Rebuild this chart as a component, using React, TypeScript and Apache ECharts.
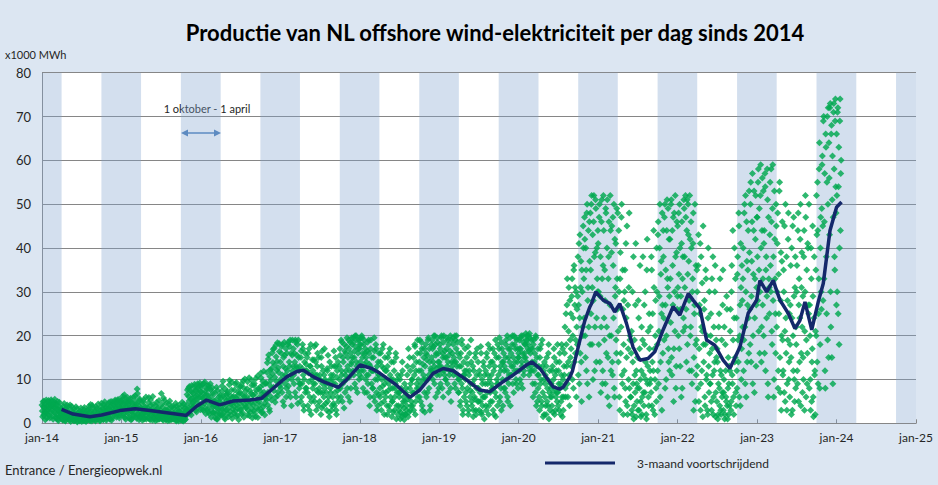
import React, { useEffect, useRef } from "react";
import * as echarts from "echarts";

// ---- Daily production samples (x1000 MWh) ----
// "d" arrays: one value every 3 days starting 1 Jan; "e" arrays: the days in between (offset 1.5 days)
const d2014 = [
  4.2, 1.5, 3.8, 5.1, 2.6, 0.8, 3.3, 4.7, 2.1, 3.9,
  5.2, 3.6, 1.2, 4.4, 5.4, 2.9, 4.1, 0.9, 3.7, 4.8,
  2.3, 4.6, 1.1, 3.4, 5.0, 0.6, 2.7, 3.9, 1.8, 2.5,
  1.4, 3.1, 0.7, 2.6, 4.5, 1.9, 0.5, 2.2, 3.6, 1.3,
  0.9, 2.4, 1.6, 4.2, 0.4, 1.8, 2.9, 0.8, 1.2, 3.3,
  0.6, 1.9, 3.8, 1.1, 0.3, 2.3, 0.9, 1.5, 0.5, 2.8,
  1.2, 0.4, 2.6, 0.8, 1.7, 3.6, 0.5, 1.1, 2.0, 0.7,
  2.2, 0.9, 3.9, 1.4, 0.6, 2.8, 1.9, 4.1, 0.8, 1.5,
  1.0, 2.5, 0.5, 1.7, 3.4, 0.9, 4.4, 1.3, 2.1, 0.6,
  2.9, 4.6, 1.4, 3.3, 0.8, 2.4, 4.9, 1.9, 3.7, 1.1,
  3.1, 1.6, 4.7, 2.3, 0.9, 3.8, 2.7, 5.0, 1.2, 2.5,
  4.3, 2.8, 5.3, 3.6, 1.4, 4.9, 2.2, 3.9, 5.5, 1.8, 3.3, 4.6,
];
const e2014 = [
  2.8, 4.9, 1.9, 3.5, 4.4, 2.3, 5.3, 1.2, 3.0, 4.1,
  3.3, 1.8, 4.6, 2.5, 5.0, 3.9, 1.6, 4.3, 2.7, 5.5,
  3.6, 1.4, 4.2, 2.0, 0.9, 3.1, 4.8, 1.6, 3.3, 2.2,
  2.8, 0.8, 3.9, 1.7, 2.4, 0.6, 3.3, 1.5, 4.2, 2.0,
  1.5, 3.6, 0.7, 2.1, 1.0, 3.9, 1.4, 2.5, 0.6, 1.9,
  2.2, 0.8, 1.4, 3.3, 0.5, 1.7, 2.6, 0.7, 1.2, 3.5,
  0.9, 2.2, 1.5, 0.6, 3.1, 1.0, 2.4, 0.4, 1.6, 2.9,
  1.3, 3.2, 0.7, 2.5, 4.3, 1.1, 0.5, 2.0, 3.6, 1.2,
  2.8, 0.7, 3.8, 1.5, 0.9, 2.3, 1.2, 3.1, 0.6, 1.9,
  1.7, 3.9, 2.2, 0.9, 4.3, 2.8, 1.3, 3.5, 0.7, 2.6,
  4.1, 2.0, 3.4, 1.1, 4.9, 2.9, 0.7, 3.6, 4.4, 1.8,
  2.5, 5.0, 3.2, 4.5, 1.9, 5.4, 2.9, 4.1, 1.2, 3.6, 5.1, 2.7,
];
const d2015 = [
  5.1, 3.4, 6.2, 2.1, 4.5, 1.3, 5.8, 3.9, 2.6, 4.8,
  2.3, 4.9, 1.1, 3.6, 5.7, 2.8, 0.9, 4.2, 3.1, 1.7,
  3.8, 6.3, 1.5, 4.4, 7.8, 2.2, 3.3, 0.8, 5.2, 2.9,
  1.9, 4.6, 0.7, 3.2, 5.4, 2.4, 1.2, 3.8, 0.9, 2.7,
  3.5, 1.4, 5.9, 2.6, 0.8, 4.1, 2.0, 3.3, 6.1, 1.6,
  1.1, 3.0, 0.6, 2.2, 4.8, 1.5, 3.6, 0.9, 2.5, 1.8,
  2.9, 6.8, 1.3, 3.7, 0.7, 2.1, 5.2, 1.6, 3.1, 0.9,
  1.8, 0.6, 3.4, 2.2, 5.1, 1.2, 0.8, 2.7, 1.5, 3.9,
  0.9, 2.4, 1.3, 4.6, 0.5, 1.9, 3.2, 0.8, 2.8, 1.4,
  1.6, 0.7, 2.9, 4.8, 1.1, 0.5, 2.3, 3.5, 0.9, 1.8,
  4.2, 7.6, 2.8, 6.1, 8.4, 3.3, 5.5, 1.9, 7.1, 4.6,
  6.8, 3.9, 8.9, 5.2, 7.4, 2.6, 6.3, 8.1, 4.4, 5.9, 9.2, 3.1,
];
const e2015 = [
  2.9, 5.5, 1.8, 4.2, 6.5, 3.1, 0.9, 4.9, 3.6, 5.9,
  4.4, 1.5, 3.3, 5.1, 0.8, 2.6, 4.7, 1.9, 6.0, 3.4,
  2.6, 5.0, 3.7, 1.1, 6.8, 4.1, 2.0, 5.6, 1.4, 3.5,
  3.3, 1.5, 2.2, 4.9, 0.9, 3.8, 2.5, 6.0, 1.7, 3.0,
  2.3, 4.7, 1.0, 3.1, 5.3, 1.9, 2.8, 0.7, 4.3, 2.5,
  2.7, 1.2, 4.1, 2.0, 0.8, 3.3, 1.6, 5.2, 1.0, 2.3,
  1.8, 4.3, 0.9, 2.5, 5.8, 1.4, 3.0, 0.8, 4.5, 2.2,
  2.9, 1.1, 4.4, 0.7, 2.4, 1.6, 3.8, 0.9, 2.1, 1.3,
  3.5, 1.0, 2.2, 0.7, 3.9, 1.6, 2.6, 0.5, 4.2, 1.2,
  2.4, 1.0, 3.9, 0.6, 2.0, 4.4, 1.3, 0.8, 2.7, 3.3,
  6.6, 3.0, 8.0, 5.1, 2.3, 7.4, 4.0, 8.6, 5.8, 3.6,
  4.9, 8.3, 6.1, 2.9, 7.7, 5.5, 9.0, 3.7, 6.8, 8.5, 4.3, 7.2,
];
const d2016 = [
  7.2, 4.1, 8.8, 5.6, 2.9, 6.7, 9.4, 3.5, 5.1, 7.9,
  3.2, 6.4, 8.6, 2.1, 5.3, 7.7, 1.4, 4.6, 6.9, 3.8,
  2.4, 5.1, 1.2, 3.7, 8.2, 0.9, 4.3, 2.8, 6.1, 1.7,
  4.9, 1.8, 7.3, 3.2, 9.6, 2.5, 5.8, 0.9, 4.1, 6.6,
  3.1, 6.8, 1.5, 5.2, 9.8, 2.7, 4.4, 7.6, 1.1, 5.9,
  6.2, 2.3, 4.8, 8.9, 1.6, 5.5, 3.4, 7.1, 0.8, 4.6,
  5.3, 8.4, 2.1, 6.6, 3.9, 9.7, 1.4, 5.8, 4.2, 7.3,
  3.6, 7.9, 1.9, 5.1, 10.4, 4.3, 2.6, 6.8, 8.7, 1.2,
  6.4, 2.8, 9.1, 4.7, 1.5, 7.6, 5.3, 10.8, 3.1, 5.9,
  4.2, 8.3, 11.5, 2.4, 6.7, 9.6, 3.8, 7.1, 1.9, 5.6,
  9.2, 5.4, 13.8, 7.1, 15.6, 3.3, 10.7, 6.2, 12.4, 8.1,
  11.3, 16.9, 7.4, 13.2, 4.8, 17.8, 9.6, 14.1, 6.3, 12.7, 18.2, 8.5,
];
const e2016 = [
  6.0, 8.3, 3.1, 5.9, 9.1, 4.5, 7.3, 2.2, 6.5, 8.6,
  5.5, 2.6, 7.9, 4.2, 9.0, 3.0, 6.1, 8.1, 2.4, 5.0,
  4.0, 6.9, 2.2, 5.4, 1.0, 7.5, 3.3, 4.8, 2.1, 6.4,
  5.7, 3.5, 8.5, 2.0, 6.3, 4.4, 1.3, 7.8, 3.0, 5.2,
  7.2, 2.2, 5.6, 8.8, 3.8, 6.3, 1.9, 9.4, 4.7, 3.2,
  3.9, 7.6, 2.8, 5.9, 9.3, 4.1, 1.8, 6.5, 8.2, 3.1,
  7.0, 3.1, 9.0, 4.9, 2.3, 8.1, 6.2, 10.1, 3.6, 5.0,
  6.1, 9.5, 2.9, 5.5, 1.7, 7.4, 4.8, 9.9, 3.3, 6.4,
  4.2, 8.6, 2.2, 6.8, 10.2, 3.5, 5.4, 1.3, 7.9, 4.9,
  7.5, 3.2, 10.4, 5.9, 2.6, 8.8, 11.9, 4.5, 6.3, 9.1,
  6.5, 11.6, 4.2, 14.7, 8.9, 2.7, 12.2, 9.8, 5.3, 16.1,
  13.9, 8.2, 17.1, 10.5, 5.9, 15.2, 12.1, 18.4, 7.1, 11.6, 16.4, 9.3,
];
const d2017 = [
  14, 8, 17.5, 11, 5, 15, 18.5, 9, 12.5, 6,
  16, 10, 18.5, 7, 13, 19, 11, 4, 15.5, 12,
  17, 9, 14, 19, 6, 12.5, 18, 10, 15, 8,
  13, 5, 16.5, 9, 18, 11, 3, 14, 7, 12,
  8, 15, 4, 11.5, 17, 6, 13, 2, 10, 14.5,
  12, 6, 17.5, 9, 14, 3, 11, 16, 7, 10,
  5, 10, 2, 13, 16.5, 7, 4, 11, 8, 9.5,
  9, 3, 12, 15.5, 6, 1.5, 10, 7, 13, 4,
  6, 11, 16.5, 4, 9, 13, 2, 12, 7.5, 5,
  13, 17, 8, 19, 11, 5, 15, 9.5, 18, 7,
  16, 10, 19.5, 13, 6, 17, 12, 18.5, 8, 14,
  18, 12, 19.5, 15, 9, 17.5, 20, 13, 7, 16, 19, 11,
];
const e2017 = [
  10, 16, 7, 18, 13, 4, 15.5, 11, 17, 8,
  12, 18, 8.5, 14, 17.5, 6, 16, 10, 19, 13,
  11, 16, 7, 18.5, 13, 15.5, 4.5, 19, 12, 9,
  9, 15, 6, 12.5, 17, 4, 10, 16, 8, 13.5,
  12, 7, 16, 9.5, 3, 13, 18, 5, 11, 8,
  9, 14.5, 5, 11, 18, 7.5, 13, 4, 15, 8,
  11, 7, 15, 3.5, 9, 12, 6, 17, 10, 4.5,
  7, 12.5, 5, 9, 2.5, 14, 8, 11, 3, 10,
  9, 4.5, 13, 7, 15, 3, 10.5, 6, 14, 8,
  10, 15.5, 6, 12, 18.5, 9, 14, 3.5, 16.5, 11,
  12, 17.5, 8, 15, 19, 10.5, 5, 16, 13.5, 19.5,
  15, 18.5, 11, 16.5, 20, 8, 14, 19, 12, 17, 10, 18,
];
const d2018 = [
  17, 19.5, 12, 20, 15, 8, 18, 13.5, 16, 10,
  14, 7, 18.5, 11, 16, 4, 13, 19, 9, 12,
  8, 15, 19.5, 5, 12, 17, 3, 10, 14, 6.5,
  11, 6, 16, 3, 13, 8.5, 18, 5, 9, 12,
  7, 12, 2, 15, 9, 4, 17, 6, 10, 1.5,
  5, 10, 14, 3, 8, 16, 1, 7, 11, 4,
  3, 7, 1, 11, 4, 14, 2, 6, 0.8, 5,
  2, 8, 4, 13, 1.5, 6, 15, 3, 9, 5,
  10, 4, 15, 7, 18, 2, 12, 9, 16, 6,
  8, 14, 19, 5, 12, 17, 3, 10, 15, 7,
  13, 18, 6, 15.5, 10, 19.5, 8, 14, 4, 12,
  15, 19, 10, 17.5, 13, 20, 6, 16, 11, 18.5, 14, 8,
];
const e2018 = [
  14, 18, 10.5, 19.5, 16, 12, 19, 7, 17, 15,
  11, 16.5, 9, 19, 13.5, 6, 17, 12, 15, 8,
  12, 6, 16.5, 10, 18, 7, 13, 4, 11, 16,
  8, 14, 4.5, 10, 17, 7, 12.5, 2, 15, 6,
  10, 4, 13, 7.5, 16, 3, 11, 8, 14, 5,
  8, 2.5, 12, 6, 9, 15, 4, 10, 2, 7,
  6, 10, 2.5, 8, 1.5, 12, 5, 3.5, 9, 2,
  7, 3, 11, 5.5, 17, 2.5, 8, 12, 4, 10,
  7, 13, 3, 11, 17.5, 5, 14, 8, 19, 10,
  12, 6, 16, 9, 18.5, 4, 13.5, 11, 17, 2.5,
  10, 16, 14.5, 7, 19, 11, 17, 3, 12.5, 18,
  12, 17, 14, 20, 9, 18, 15.5, 12.5, 19.5, 7, 16, 13,
];
const d2019 = [
  14, 18, 9, 19.5, 12, 16, 6, 20, 11, 15,
  10, 17, 13, 19, 7, 15.5, 12, 20, 5, 14,
  16, 19.5, 11, 14, 20, 8, 17, 13, 18.5, 10,
  7, 13, 4, 16, 9, 18, 2, 11, 6, 12,
  10, 5, 15, 8, 17.5, 3, 12, 6, 9, 14,
  4, 9, 1.5, 12, 6, 15, 3, 8, 17, 5,
  8, 3, 11, 5, 16, 2, 9, 6, 13, 1,
  6, 12, 3, 15, 9, 18, 4, 10, 7, 14,
  11, 5, 17, 8, 2, 13, 19, 6, 10, 4,
  9, 15, 19.5, 6, 12, 3, 17, 10, 14, 8,
  13, 7, 18, 10, 20, 5, 15, 11, 17, 4,
  16, 11, 20, 13, 7, 18, 14, 19.5, 9, 12, 17, 15,
];
const e2019 = [
  11, 17, 13, 20, 8, 15, 18.5, 12, 16.5, 10,
  15, 19.5, 9, 14, 18, 11, 16.5, 8, 19, 13,
  12, 18, 15, 9, 19, 14, 20, 11, 16, 7,
  10, 15, 5, 13, 19, 8, 3, 14, 11, 17,
  7, 12, 4, 13.5, 2, 11, 16, 7.5, 19, 5,
  7, 13, 3, 10, 5.5, 16, 2, 11, 8, 14,
  5, 12, 7, 17.5, 2.5, 10, 4, 14, 6, 11,
  9, 4, 16, 7, 11, 2, 13, 17, 5, 9,
  8, 14, 3, 12, 16, 7, 1.5, 15, 9, 18,
  11, 17, 5, 13, 8, 18.5, 14, 4, 16, 12,
  8, 15, 19, 12, 6, 17, 9, 14, 19.5, 11,
  13, 18, 9, 15, 20, 12, 17, 10, 19, 14, 8, 16,
];
const d2020 = [
  15, 19, 10, 17, 20, 13, 8, 18.5, 12, 16,
  18, 20.5, 14, 19, 17, 20, 11, 19.5, 16, 13,
  12, 17, 6, 19, 14, 9, 20, 4, 15, 11,
  8, 13, 3, 17, 10, 5, 19, 7, 12, 2,
  6, 11, 2, 15, 8, 4, 18, 7, 3, 9,
  9, 4, 13, 7, 17, 2, 11, 6, 14, 5,
  7, 12, 3, 16, 9, 5, 18, 1.5, 10, 6,
  11, 22, 6, 18, 27, 9, 14, 31, 4, 19,
  25, 13, 33, 20, 8, 36, 27, 16, 30, 22,
  18, 38, 27, 9, 43, 31, 14, 35, 22, 45,
  33, 47, 20, 40, 12, 50, 28, 44, 6, 37,
  48, 25, 52, 31, 10, 46, 38, 22, 51, 14, 40, 30,
];
const e2020 = [
  12, 17, 19.5, 9, 14, 16, 20, 11, 15, 18,
  15, 19, 20, 13, 18, 16.5, 20.5, 12, 17, 19,
  14, 9, 18, 12, 16, 7, 19.5, 13, 5, 17,
  11, 6, 15, 9, 18, 4, 13, 1.5, 10, 14,
  9, 4, 13, 5, 10, 16, 1, 12, 6, 8,
  6, 12, 2.5, 10, 15, 8, 3, 12, 7, 18,
  4, 9, 14, 8, 2, 11, 6, 17, 3, 13,
  16, 8, 25, 13, 33, 6, 21, 11, 28, 15,
  17, 29, 10, 24, 35, 14, 31, 19, 6, 26,
  29, 11, 41, 24, 16, 37, 5, 30, 20, 40,
  24, 42, 15, 35, 48, 9, 31, 22, 46, 18,
  35, 50, 18, 43, 28, 52, 12, 39, 49, 24, 33, 44,
];
const d2021 = [
  41, 18, 50, 29, 7, 46, 33, 12, 52, 24,
  35, 9, 48, 22, 51, 15, 38, 4, 27, 44,
  20, 45, 11, 36, 50, 6, 29, 41, 16, 33,
  48, 14, 30, 3, 39, 22, 50, 9, 26, 18,
  12, 35, 5, 24, 45, 2, 17, 31, 8, 20,
  6, 21, 2, 14, 38, 4, 11, 27, 1.5, 9,
  15, 3, 24, 8, 36, 5, 12, 2, 19, 7,
  4, 18, 30, 10, 1, 42, 13, 6, 25, 9,
  22, 7, 35, 14, 3, 44, 17, 10, 28, 5,
  30, 12, 46, 21, 40, 6, 34, 25, 48, 16,
  38, 19, 50, 27, 10, 44, 33, 49, 14, 29,
  42, 23, 51, 11, 36, 47, 17, 30, 52, 8, 39, 26,
];
const e2021 = [
  30, 47, 14, 38, 22, 51, 9, 36, 44, 19,
  28, 49, 16, 40, 6, 33, 46, 20, 52, 12,
  39, 14, 47, 24, 8, 42, 31, 19, 49, 26,
  21, 44, 6, 33, 16, 47, 11, 35, 2, 28,
  30, 8, 41, 15, 4, 27, 10, 48, 19, 6,
  16, 3, 30, 9, 1, 19, 7, 41, 12, 5,
  8, 28, 3, 17, 10, 1.5, 22, 6, 38, 11,
  27, 7, 14, 2, 35, 9, 21, 4, 17, 12,
  10, 38, 4, 25, 12, 31, 2, 20, 8, 40,
  18, 43, 9, 29, 50, 14, 37, 3, 27, 44,
  24, 47, 8, 35, 20, 51, 31, 17, 42, 12,
  33, 50, 15, 44, 27, 5, 48, 21, 38, 13, 46, 29,
];
const d2022 = [
  45, 20, 34, 50, 13, 29, 41, 8, 38, 24,
  49, 31, 52, 26, 44, 18, 50, 37, 12, 42,
  22, 40, 9, 33, 48, 15, 27, 5, 36, 19,
  30, 8, 43, 17, 25, 3, 38, 12, 21, 45,
  14, 28, 4, 35, 10, 20, 2, 40, 7, 16,
  9, 25, 3, 17, 38, 6, 12, 30, 1.5, 19,
  5, 14, 2, 22, 8, 33, 3, 11, 6, 27,
  3, 10, 1, 18, 6, 29, 4, 8, 2, 13,
  12, 26, 5, 36, 9, 19, 2, 40, 15, 7,
  24, 8, 38, 14, 45, 20, 4, 31, 17, 28,
  33, 12, 48, 22, 52, 6, 37, 27, 44, 16,
  39, 18, 55, 29, 46, 9, 34, 53, 24, 42, 13, 31,
];
const e2022 = [
  31, 48, 17, 40, 26, 6, 46, 33, 21, 51,
  38, 22, 47, 14, 51, 34, 43, 28, 52, 20,
  46, 12, 30, 41, 3, 25, 50, 18, 11, 35,
  13, 36, 5, 27, 41, 9, 22, 32, 1.5, 18,
  26, 6, 18, 33, 11, 3, 24, 13, 30, 9,
  20, 5, 33, 11, 2, 22, 14, 36, 7, 15,
  17, 1, 9, 25, 4, 12, 2, 19, 7, 35,
  7, 22, 2, 12, 5, 26, 1, 15, 9, 4,
  21, 3, 30, 11, 44, 6, 24, 14, 33, 4,
  12, 34, 19, 48, 6, 27, 41, 10, 36, 22,
  40, 19, 50, 9, 30, 46, 14, 35, 24, 53,
  26, 50, 14, 37, 57, 20, 44, 7, 33, 52, 27, 47,
];
const d2023 = [
  47, 28, 58, 35, 16, 52, 40, 22, 56, 33,
  20, 44, 57, 12, 38, 29, 51, 6, 33, 25,
  55, 30, 46, 18, 59, 38, 10, 42, 25, 50,
  22, 41, 8, 34, 53, 15, 28, 3, 37, 19,
  12, 30, 45, 5, 24, 38, 9, 19, 48, 14,
  6, 27, 15, 40, 3, 20, 47, 10, 31, 8,
  18, 36, 9, 48, 27, 14, 42, 4, 31, 22,
  29, 10, 44, 21, 52, 6, 35, 16, 40, 25,
  8, 20, 3, 33, 14, 45, 6, 24, 11, 2,
  35, 52, 14, 44, 25, 58, 8, 40, 30, 49,
  61, 28, 70, 46, 12, 66, 38, 55, 19, 72,
  64, 43, 73, 22, 68, 51, 9, 71, 58, 35, 74, 48,
];
const e2023 = [
  38, 55, 21, 49, 30, 59, 14, 44, 27, 53,
  41, 16, 54, 35, 24, 58, 9, 47, 31, 43,
  36, 58, 21, 49, 28, 6, 53, 33, 16, 45,
  30, 48, 12, 25, 55, 7, 39, 20, 46, 11,
  35, 7, 21, 50, 16, 3, 28, 42, 10, 25,
  18, 36, 2, 24, 45, 12, 29, 5, 38, 22,
  30, 12, 44, 5, 33, 24, 50, 16, 39, 7,
  15, 38, 3, 30, 47, 19, 9, 41, 27, 50,
  27, 10, 40, 5, 17, 29, 1.5, 38, 12, 21,
  20, 43, 55, 9, 33, 64, 18, 47, 26, 59,
  45, 69, 33, 57, 8, 63, 25, 70, 50, 15,
  56, 72, 30, 66, 15, 61, 47, 73, 38, 69, 54, 27,
];
const d2024 = [66, 30, 72, 54, 18, 69, 44, 60];
const e2024 = [52, 71, 25, 63, 40, 74, 57];

const dailyYears = [2014, 2015, 2016, 2017, 2018, 2019, 2020, 2021, 2022, 2023, 2024];
const dailyValuesA = [d2014, d2015, d2016, d2017, d2018, d2019, d2020, d2021, d2022, d2023, d2024];
const dailyValuesB = [e2014, e2015, e2016, e2017, e2018, e2019, e2020, e2021, e2022, e2023, e2024];
const sampleStepDays = 3;
const sampleOffsetB = 1.5;

// ---- 3-month rolling average ----
const lineDates = [
  "2014-04-01", "2014-05-24", "2014-08-09", "2014-10-02", "2014-12-25",
  "2015-03-05", "2015-05-12", "2015-07-28", "2015-10-12", "2015-10-25", "2015-12-12",
  "2016-01-27", "2016-03-28", "2016-05-29", "2016-08-14", "2016-10-06", "2016-11-29",
  "2017-01-30", "2017-03-17", "2017-04-17", "2017-06-02", "2017-07-17", "2017-09-24", "2017-11-01",
  "2018-01-02", "2018-02-25", "2018-04-04", "2018-06-19", "2018-08-19", "2018-10-04", "2018-12-04",
  "2019-01-19", "2019-03-06", "2019-05-06", "2019-07-06", "2019-08-21", "2019-10-21", "2019-12-06",
  "2020-02-06", "2020-03-01", "2020-04-08", "2020-06-08", "2020-07-09", "2020-07-24", "2020-08-24", "2020-09-05", "2020-10-01", "2020-10-24", "2020-11-01", "2020-11-24", "2020-12-01", "2020-12-21",
  "2021-01-24", "2021-02-24", "2021-03-18", "2021-04-10", "2021-05-11", "2021-06-10", "2021-07-11", "2021-08-18", "2021-09-18", "2021-10-26", "2021-12-11",
  "2022-01-11", "2022-02-19", "2022-03-13", "2022-04-13", "2022-05-14", "2022-06-21", "2022-07-29", "2022-08-29", "2022-10-14", "2022-11-21", "2022-12-30",
  "2023-01-14", "2023-02-14", "2023-03-16", "2023-04-16", "2023-05-24", "2023-06-24", "2023-07-17", "2023-08-09", "2023-09-09", "2023-10-09", "2023-11-01", "2023-12-02", "2024-01-01", "2024-01-24",
];
const lineValues = [
  3.2, 2.1, 1.5, 1.9, 2.9,
  3.3, 2.9, 2.4, 1.9, 1.8, 3.9,
  5.3, 4.2, 5.1, 5.3, 5.7, 8.0,
  10.6, 11.8, 12.1, 10.6, 9.5, 8.2, 9.9,
  13.3, 12.5, 11.4, 8.7, 5.9, 7.6, 11.4,
  12.5, 12.0, 9.9, 7.6, 7.2, 9.5, 11.0,
  13.3, 14.0, 12.5, 8.3, 7.8, 8.3, 10.6, 12.0, 17.4, 22.0, 23.5, 26.6, 27.3, 30.0,
  28.1, 27.3, 25.4, 27.3, 22.8, 17.4, 14.4, 14.8, 16.3, 21.3, 26.6,
  24.7, 29.6, 28.1, 26.2, 19.0, 17.8, 14.4, 12.5, 17.4, 25.1, 28.1,
  32.6, 30.0, 32.6, 28.1, 25.1, 21.6, 23.5, 27.7, 21.3, 27.7, 31.9, 44.0, 49.3, 50.5,
];

// ---- Winter bands: 1 October - 1 April ----
const bandYears = [2013, 2014, 2015, 2016, 2017, 2018, 2019, 2020, 2021, 2022, 2023, 2024];
const axisStartYear = 2014;
const axisEndYear = 2025;

const TITLE = "Productie van NL offshore wind-elektriciteit per dag sinds 2014";
const LINE_NAME = "3-maand voortschrijdend";
const FONT = "Lato, 'Liberation Sans', sans-serif";

function daysInYear(y: number) {
  return (y % 4 === 0 && y % 100 !== 0) || y % 400 === 0 ? 366 : 365;
}
function dateToYearFrac(s: string) {
  const [y, m, d] = s.split("-").map(Number);
  const start = Date.UTC(y, 0, 1);
  const t = Date.UTC(y, m - 1, d);
  return y + (t - start) / 86400000 / daysInYear(y);
}

export default function App() {
  const ref = useRef<HTMLDivElement>(null);
  useEffect(() => {
    if (!ref.current) return;
    const chart = echarts.init(ref.current, null, { renderer: "svg" });

    const scatterData: number[][] = [];
    dailyYears.forEach((yr, k) => {
      const n = daysInYear(yr);
      dailyValuesA[k].forEach((v, i) => {
        scatterData.push([yr + (i * sampleStepDays) / n, v]);
      });
      dailyValuesB[k].forEach((v, i) => {
        scatterData.push([yr + (i * sampleStepDays + sampleOffsetB) / n, v]);
      });
    });
    const lineData = lineDates.map((d, i) => [dateToYearFrac(d), lineValues[i]]);

    const bands = bandYears.map((y) => {
      const a = Math.max(dateToYearFrac(`${y}-10-01`), axisStartYear);
      const b = Math.min(dateToYearFrac(`${y + 1}-04-01`), axisEndYear);
      return [{ xAxis: a }, { xAxis: b }];
    });

    chart.setOption({
      animation: false,
      backgroundColor: "#dce6f2",
      textStyle: { fontFamily: FONT },
      grid: {
        show: true,
        backgroundColor: "#ffffff",
        borderWidth: 0,
        left: 42,
        right: 22,
        top: 72.7,
        bottom: 61.7,
        containLabel: false,
      },
      legend: {
        data: [LINE_NAME],
        icon: "rect",
        left: 545,
        top: 457,
        padding: 0,
        itemWidth: 70,
        itemHeight: 3,
        textStyle: { fontSize: 12, color: "#262626", fontFamily: FONT, padding: [0, 0, 0, 17] },
      },
      xAxis: {
        type: "value",
        min: axisStartYear,
        max: axisEndYear,
        interval: 1,
        axisLine: { show: true, lineStyle: { color: "#868686", width: 1 } },
        axisTick: { show: true, inside: true, length: 4, lineStyle: { color: "#868686" } },
        axisLabel: {
          fontSize: 12,
          color: "#262626",
          margin: 8,
          formatter: (v: number) => "jan-" + String(Math.round(v) % 100).padStart(2, "0"),
        },
        splitLine: { show: false },
      },
      yAxis: {
        type: "value",
        min: 0,
        max: 80,
        interval: 10,
        axisLine: { show: true, lineStyle: { color: "#868686", width: 1 } },
        axisTick: { show: false },
        axisLabel: { fontSize: 13, color: "#262626", margin: 11 },
        splitLine: { show: true, lineStyle: { color: "#868686", width: 1 } },
      },
      graphic: [
        {
          type: "text",
          x: 495,
          y: 32,
          style: {
            text: TITLE,
            fontFamily: FONT,
            fontSize: 22,
            fontWeight: "bold",
            fill: "#000",
            textAlign: "center",
            textVerticalAlign: "middle",
          },
        },
        {
          type: "text",
          x: 5,
          y: 54,
          style: { text: "x1000 MWh", fontFamily: FONT, fontSize: 11, fill: "#262626", textVerticalAlign: "middle" },
        },
        {
          type: "text",
          x: 5,
          y: 470,
          style: { text: "Entrance / Energieopwek.nl", fontFamily: FONT, fontSize: 13, fill: "#262626", textVerticalAlign: "middle" },
        },
        {
          type: "text",
          x: 207,
          y: 108,
          style: { text: "1 oktober - 1 april", fontFamily: FONT, fontSize: 11, fill: "#262626", textAlign: "center", textVerticalAlign: "middle" },
        },
        {
          type: "line",
          shape: { x1: 186, y1: 133, x2: 216, y2: 133 },
          style: { stroke: "#4a7ebb", lineWidth: 1.5 },
        },
        {
          type: "polygon",
          shape: { points: [[181, 133], [188, 129.5], [188, 136.5]] },
          style: { fill: "#4a7ebb" },
        },
        {
          type: "polygon",
          shape: { points: [[221, 133], [214, 129.5], [214, 136.5]] },
          style: { fill: "#4a7ebb" },
        },
      ],
      series: [
        {
          name: "bands",
          type: "line",
          data: [],
          silent: true,
          markArea: {
            silent: true,
            itemStyle: { color: "rgba(129,164,206,0.35)" },
            data: bands,
          },
        },
        {
          name: "dagproductie",
          type: "scatter",
          data: scatterData,
          symbol: "diamond",
          symbolSize: 7,
          itemStyle: { color: "#00a84f", opacity: 0.82 },
          z: 2,
        },
        {
          name: LINE_NAME,
          type: "line",
          data: lineData,
          symbol: "none",
          lineStyle: { color: "#14286b", width: 3.5 },
          itemStyle: { color: "#14286b" },
          z: 3,
        },
      ],
    });
    return () => chart.dispose();
  }, []);
  return <div ref={ref} style={{ width: 938, height: 485, position: "absolute", left: 0, top: 0 }} />;
}
